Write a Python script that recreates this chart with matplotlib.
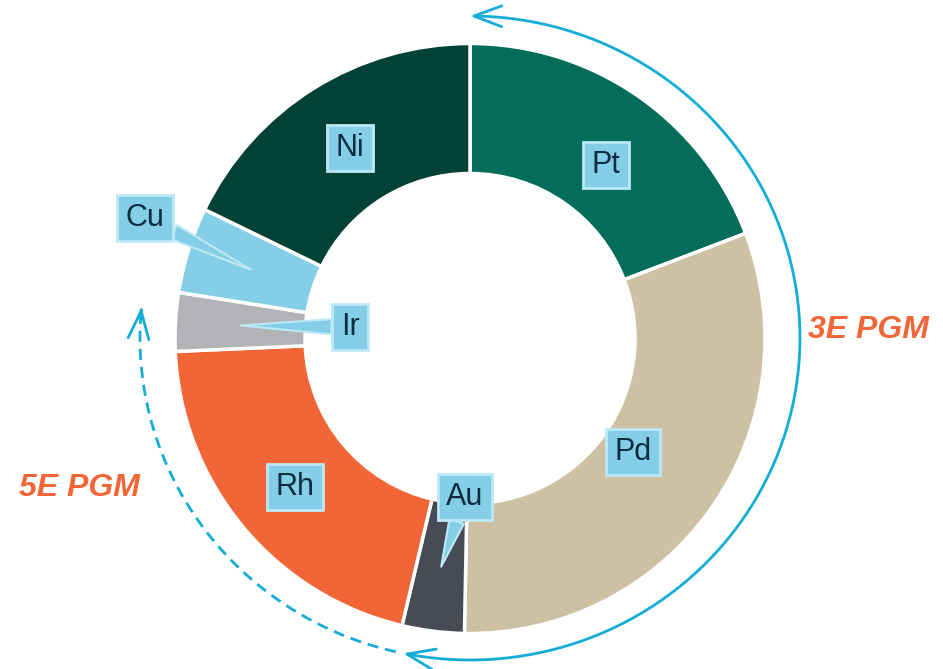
import numpy as np
import matplotlib.pyplot as plt
from matplotlib.patches import FancyArrowPatch
from matplotlib.path import Path

plt.rcParams['font.family'] = ['Liberation Sans', 'DejaVu Sans']

# share of each metal, clockwise from the top
metals = ["Pt", "Pd", "Au", "Rh", "Ir", "Cu", "Ni"]
shares = [19.2, 31.1, 3.4, 20.6, 3.2, 4.7, 17.8]
colors = ["#036C5A", "#CEC1A3", "#474B56", "#F26536", "#B1B3B6", "#84CFE7", "#024136"]

# label box centres (pixels, y from top); callout = box drawn off the wedge
label_pos = {"Pt": (606, 165), "Pd": (633, 452), "Au": (465, 497), "Rh": (295, 487),
             "Ir": (350, 327), "Cu": (145, 218), "Ni": (350, 148)}
callouts = ["Au", "Ir", "Cu"]

W, H = 943, 669
fig = plt.figure(figsize=(W / 100, H / 100), dpi=100)
ax = fig.add_axes([0, 0, 1, 1])

def px(x, y):
    return x, H - y

cx, cy = px(470, 338.5)
R = 295
ring = 130

wedges, _ = ax.pie(shares, colors=colors, startangle=90, counterclock=False,
                   center=(cx, cy), radius=R, frame=True,
                   wedgeprops=dict(width=ring, edgecolor="white", linewidth=2.5))
ax.set_xlim(0, W)
ax.set_ylim(0, H)
ax.set_aspect("equal")
ax.axis("off")

box_fc = "#84CFE7"
box_ec = "#BDE9F7"
txt_c = "#0B2C42"

for w, name in zip(wedges, metals):
    mid = np.deg2rad((w.theta1 + w.theta2) / 2)
    tx, ty = px(*label_pos[name])
    bbox = dict(boxstyle="square,pad=0.27", fc=box_fc, ec=box_ec, lw=2)
    if name in callouts:
        r = 230
        ax.annotate(name, xy=(cx + r * np.cos(mid), cy + r * np.sin(mid)),
                    xytext=(tx, ty), ha="center", va="center", fontsize=22,
                    color=txt_c, bbox=bbox,
                    arrowprops=dict(arrowstyle="wedge,tail_width=0.5,shrink_factor=0.5",
                                    fc=box_fc, ec=box_ec, lw=1.5, shrinkA=0, shrinkB=0))
    else:
        ax.text(tx, ty, name, ha="center", va="center", fontsize=22,
                color=txt_c, bbox=bbox)

# arrows around the ring
arc_c = "#13ADD8"
acx, acy = px(470, 338)
rx, ry = 330, 322

def arc(t0, t1, n=200):
    t = np.deg2rad(np.linspace(t0, t1, n))
    return np.column_stack([acx + rx * np.cos(t), acy + ry * np.sin(t)])

solid = arc(90, -101.7)
ax.add_patch(FancyArrowPatch(path=Path(solid),
                             arrowstyle="<->,head_length=0.8,head_width=0.3",
                             mutation_scale=25, lw=2, color=arc_c,
                             shrinkA=0, shrinkB=0))

dashed = arc(-103, -185.5)
ax.plot(dashed[:-3, 0], dashed[:-3, 1], color=arc_c, lw=2, ls=(0, (4, 2.5)))
ax.add_patch(FancyArrowPatch(path=Path(dashed[-6:]),
                             arrowstyle="->,head_length=0.8,head_width=0.3",
                             mutation_scale=25, lw=2, color=arc_c,
                             shrinkA=0, shrinkB=0))

ax.text(*px(868, 330), "3E PGM", ha="center", va="center", fontsize=23,
        fontweight="bold", fontstyle="italic", color="#F26536")
ax.text(*px(79, 488), "5E PGM", ha="center", va="center", fontsize=23,
        fontweight="bold", fontstyle="italic", color="#F26536")

fig.savefig("out.png", dpi=100)
